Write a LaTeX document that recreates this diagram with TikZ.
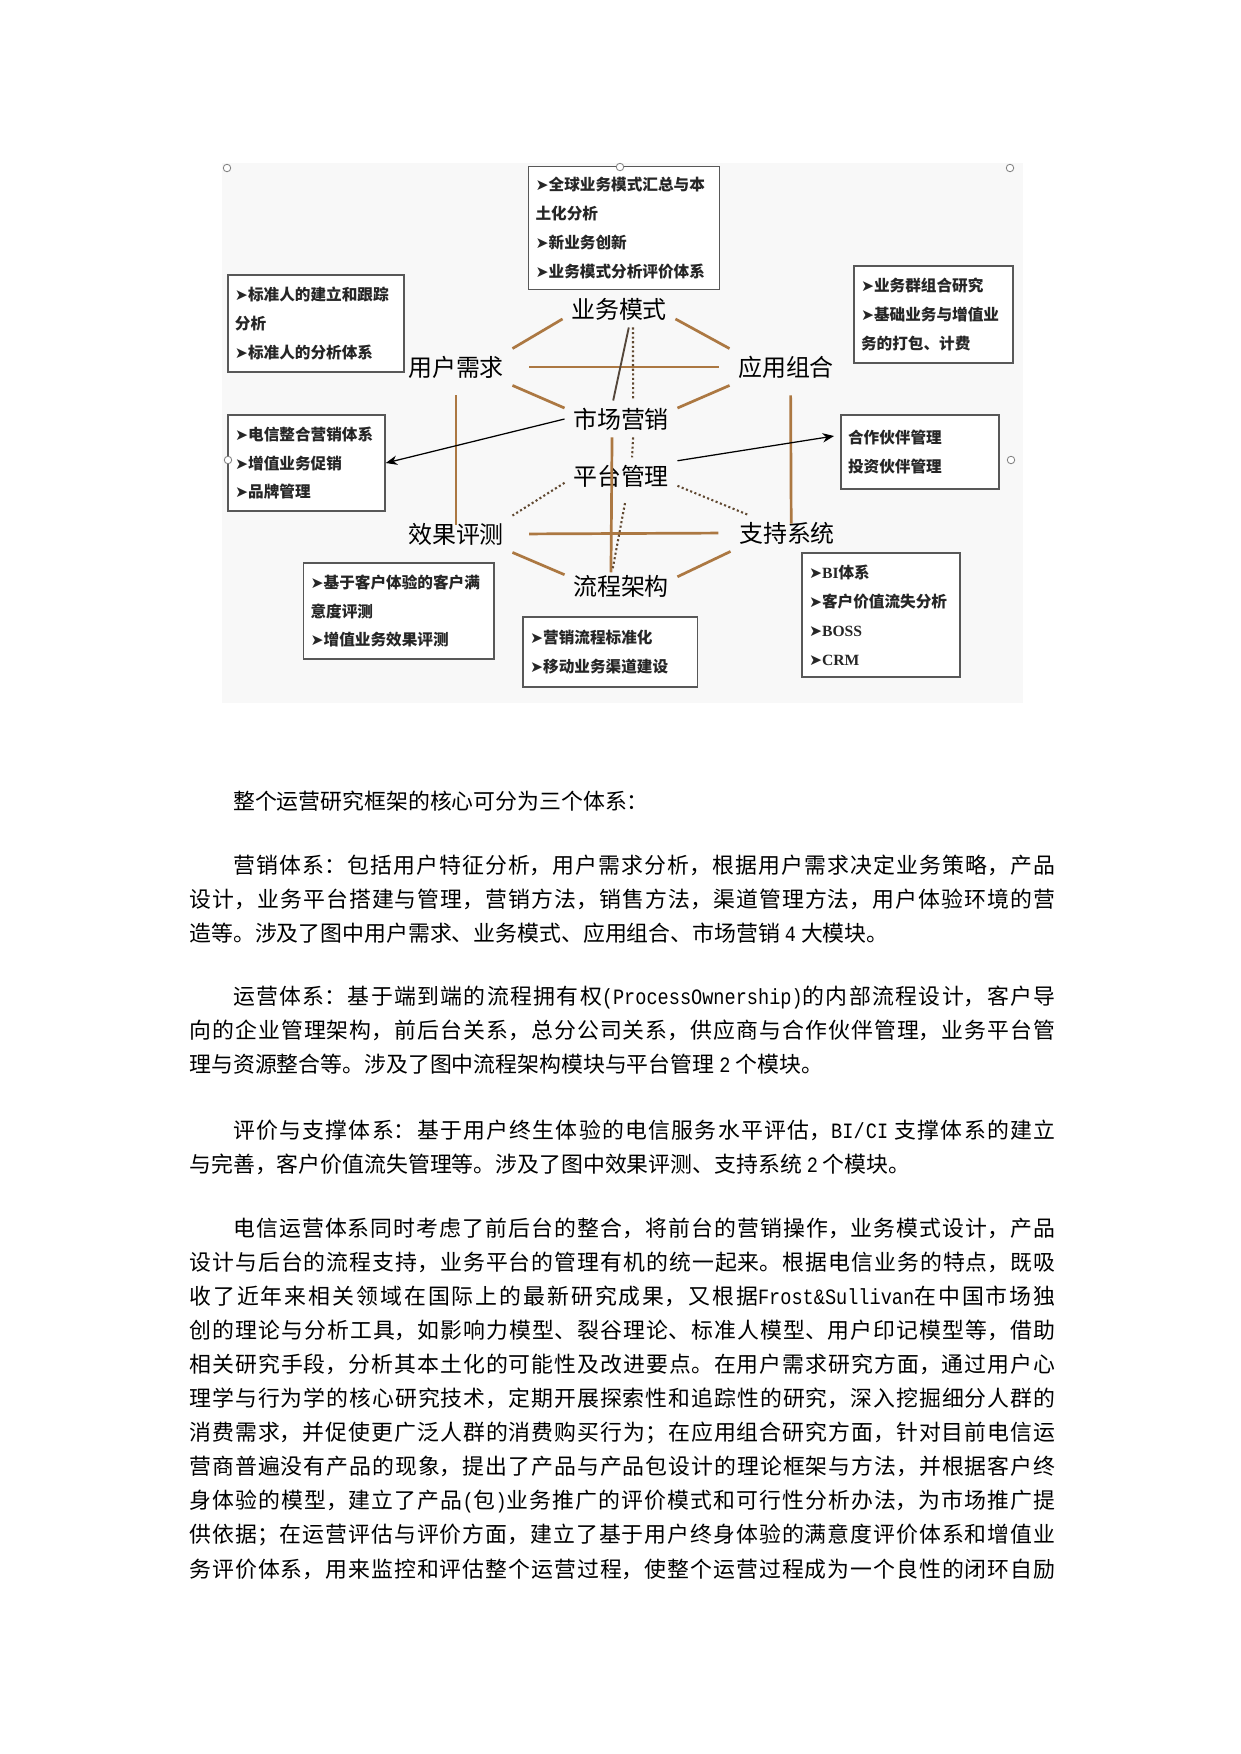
\documentclass[tikz,border=0pt]{standalone}
\usepackage{fontspec}
\setmainfont{Noto Sans CJK SC}
\newfontfamily\symf{DejaVu Sans}
\newfontfamily\latf{Liberation Mono}[FakeStretch=0.85]
\newfontfamily\romf{Liberation Serif}
\usetikzlibrary{positioning,arrows.meta}
\definecolor{Brown}{RGB}{172,120,66}
\definecolor{Dots}{RGB}{96,72,48}
\definecolor{Edge}{RGB}{84,70,58}
\definecolor{Frame}{RGB}{88,88,88}
\definecolor{Paper}{RGB}{248,248,248}
\newcommand\bul{{\symf ➤}}
\newcommand\bodyf{\fontsize{10.5pt}{16.37pt}\selectfont\XeTeXlinebreaklocale "zh"\XeTeXlinebreakskip=0pt plus 1pt\relax}

\begin{document}
\begin{tikzpicture}[x=0.48pt,y=-0.48pt,node distance=9.6pt,
 lab/.style={inner sep=0pt,minimum width=53.8pt,minimum height=17.3pt,font=\fontsize{11.5pt}{14pt}\selectfont},
 box/.style={draw=Frame,line width=.7pt,fill=white,inner xsep=3.4pt,inner ysep=0pt,align=left,font=\fontsize{7.5pt}{13.9pt}\selectfont\bfseries,text=black!85},
 hx/.style={Brown,line width=1.3pt},
 ds/.style={Edge,line width=.9pt},
 dt/.style={Dots,line width=1pt,dash pattern=on 1pt off 1.2pt},
 ar/.style={-{Stealth[length=5.5pt,width=4.5pt]},line width=.6pt,black},
 hd/.style={draw=gray,fill=white,line width=.4pt},
 tx/.style={anchor=base west,inner sep=0pt,text width=415.7pt,align=justify,font=\bodyf}]
\useasboundingbox (0,0) rectangle (1241,1754);
\fill[Paper] (222,163) rectangle (1023,703);
\node[lab] (bm) at (619,309) {业务模式};
\node[lab] (yh) at (456,367) {用户需求};
\node[lab] (yy) at (786,367) {应用组合};
\node[lab] (sc) at (621,419) {市场营销};
\node[lab,below=of sc] (pt) {平台管理};
\node[lab] (xg) at (456,534) {效果评测};
\node[lab] (zc) at (787,533) {支持系统};
\node[lab,below=35.5pt of pt] (lc) {流程架构};
\node[box,text width=84.9pt,minimum height=59.2pt] (tb) at (624,228) {\bul{}全球业务模式汇总与本\\土化分析\\\bul{}新业务创新\\\bul{}业务模式分析评价体系};
\node[box,text width=77.8pt,minimum height=46.6pt] (lt) at (316,323.5) {\bul{}标准人的建立和跟踪\\分析\\\bul{}标准人的分析体系};
\node[box,text width=69.6pt,minimum height=46.6pt] (rt) at (933.5,314.5) {\bul{}业务群组合研究\\\bul{}基础业务与增值业\\务的打包、计费};
\node[box,text width=68.6pt,minimum height=46.1pt] (lm) at (306.5,463) {\bul{}电信整合营销体系\\\bul{}增值业务促销\\\bul{}品牌管理};
\node[box,text width=69.1pt,minimum height=35.5pt] (rm) at (920,452) {合作伙伴管理\\投资伙伴管理};
\node[box,text width=84.7pt,minimum height=46.1pt] (lb) at (398.8,611) {\bul{}基于客户体验的客户满\\意度评测\\\bul{}增值业务效果评测};
\node[box,text width=77pt,minimum height=33.6pt] (mb) at (610.3,652) {\bul{}营销流程标准化\\\bul{}移动业务渠道建设};
\node[box,text width=69.1pt,minimum height=59.5pt] (rb) at (881,615) {\bul{}{\romf BI}体系\\\bul{}客户价值流失分析\\\bul{}{\romf BOSS}\\\bul{}{\romf CRM}};
\draw[hx] (yh.north east) -- (bm.190);
\draw[hx] (bm.350) -- (yy.north west);
\draw[hx,shorten <=8pt,shorten >=5pt] (yh.east) -- (yy.west);
\draw[hx] (yh.south east) -- (sc.169);
\draw[hx] (yy.south west) -- (sc.11);
\draw[hx,shorten <=4.8pt,shorten >=-4.3pt] (yh.south) -- (xg.north);
\draw[hx,shorten <=4.8pt,shorten >=-4.3pt] ([xshift=2.2pt]yy.south) -- ([xshift=2pt]zc.north);
\draw[hx,shorten <=8pt,shorten >=5.8pt] (xg.east) -- (zc.west);
\draw[hx] (xg.south east) -- (lc.168);
\draw[hx] (zc.south west) -- (lc.10);
\draw[hx,shorten >=-2pt] ([xshift=-4.3pt]sc.south) -- ([xshift=-4.8pt]lc.north);
\draw[ds] (bm.-62) -- (sc.113);
\draw[dt] ([xshift=6.7pt]bm.south) -- ([xshift=5.8pt]sc.north);
\draw[dt] ([xshift=5.8pt]sc.south) -- ([xshift=5.3pt]pt.north);
\draw[dt] (pt.187) -- (xg.north east);
\draw[dt] (pt.350) -- (zc.155);
\draw[dt,shorten <=4.3pt] (pt.-73) -- (lc.114);
\draw[ar] (sc.west) -- (lm.east);
\draw[ar,shorten >=3pt] (pt.15) -- (rm.168);
\foreach \p in {(227,168),(620,167),(1010,168),(228,460),(1011,460)}
  \draw[hd] \p circle[radius=1.8pt];
\node[tx] (p0) at (189,809) {\hspace*{2em}整个运营研究框架的核心可分为三个体系：};
\node[tx] (p1) at (189,873) {\hspace*{2em}营销体系：包括用户特征分析，用户需求分析，根据用户需求决定业务策略，产品\linebreak
设计，业务平台搭建与管理，营销方法，销售方法，渠道管理方法，用户体验环境的营\linebreak
造等。涉及了图中用户需求、业务模式、应用组合、市场营销 {\latf 4} 大模块。};
\node[tx] (p2) at (189,1004) {\hspace*{2em}运营体系：基于端到端的流程拥有权{\latf (ProcessOwnership)}的内部流程设计，客户导\linebreak
向的企业管理架构，前后台关系，总分公司关系，供应商与合作伙伴管理，业务平台管\linebreak
理与资源整合等。涉及了图中流程架构模块与平台管理 {\latf 2} 个模块。};
\node[tx] (p3) at (189,1138) {\hspace*{2em}评价与支撑体系：基于用户终生体验的电信服务水平评估，{\latf BI/CI} 支撑体系的建立\linebreak
与完善，客户价值流失管理等。涉及了图中效果评测、支持系统 {\latf 2} 个模块。};
\node[tx] (p4) at (189,1236) {\hspace*{2em}电信运营体系同时考虑了前后台的整合，将前台的营销操作，业务模式设计，产品\linebreak
设计与后台的流程支持，业务平台的管理有机的统一起来。根据电信业务的特点，既吸\linebreak
收了近年来相关领域在国际上的最新研究成果，又根据{\latf Frost\&Sullivan}在中国市场独\linebreak
创的理论与分析工具，如影响力模型、裂谷理论、标准人模型、用户印记模型等，借助\linebreak
相关研究手段，分析其本土化的可能性及改进要点。在用户需求研究方面，通过用户心\linebreak
理学与行为学的核心研究技术，定期开展探索性和追踪性的研究，深入挖掘细分人群的\linebreak
消费需求，并促使更广泛人群的消费购买行为；在应用组合研究方面，针对目前电信运\linebreak
营商普遍没有产品的现象，提出了产品与产品包设计的理论框架与方法，并根据客户终\linebreak
身体验的模型，建立了产品{\latf (}包{\latf )}业务推广的评价模式和可行性分析办法，为市场推广提\linebreak
供依据；在运营评估与评价方面，建立了基于用户终身体验的满意度评价体系和增值业\linebreak
务评价体系，用来监控和评估整个运营过程，使整个运营过程成为一个良性的闭环自励\parfillskip=0pt\par};
\end{tikzpicture}
\end{document}
